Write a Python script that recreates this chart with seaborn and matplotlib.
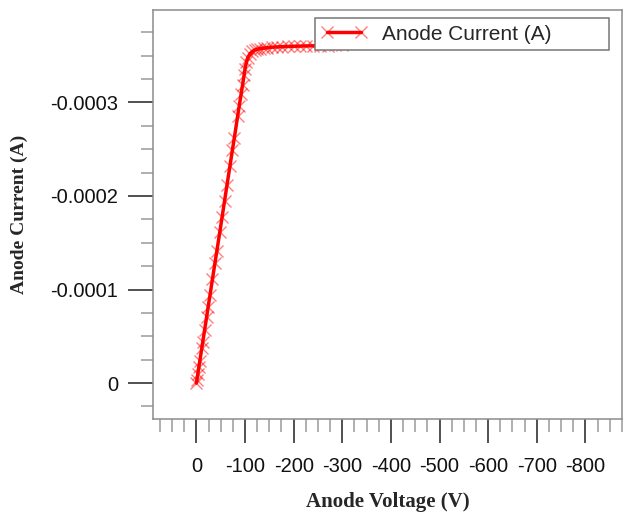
"Anode current vs anode voltage (inverted axes, negative bias)."
import matplotlib
matplotlib.use("Agg")
import matplotlib.pyplot as plt
from matplotlib.ticker import MultipleLocator
import seaborn as sns
import pandas as pd

# anode voltage (V) and anode current (A)
anode_voltage = [0, -1, -3, -5, -7, -11, -13, -17, -21, -24, -28, -33, -38, -42, -48,
                 -53, -58, -63, -69, -74, -78, -85, -88, -92, -95, -98, -100, -103,
                 -106, -110, -115, -120, -125, -131, -138, -146, -155, -165, -176,
                 -188, -200, -213, -226, -240, -255, -270, -285, -300]
anode_current = [0, -3.4e-6, -1.0e-5, -1.7e-5, -2.35e-5, -3.7e-5, -4.4e-5, -5.7e-5,
                 -7.05e-5, -8.1e-5, -9.4e-5, -1.11e-4, -1.28e-4, -1.41e-4, -1.61e-4,
                 -1.78e-4, -1.95e-4, -2.12e-4, -2.32e-4, -2.49e-4, -2.62e-4, -2.86e-4,
                 -2.96e-4, -3.09e-4, -3.19e-4, -3.29e-4, -3.36e-4, -3.43e-4, -3.48e-4,
                 -3.52e-4, -3.545e-4, -3.56e-4, -3.568e-4, -3.575e-4, -3.58e-4,
                 -3.585e-4, -3.59e-4, -3.593e-4, -3.596e-4, -3.598e-4, -3.6e-4,
                 -3.602e-4, -3.604e-4, -3.605e-4, -3.607e-4, -3.608e-4, -3.609e-4,
                 -3.61e-4]
series_label = 'Anode Current (A)'
xticks = [0, -100, -200, -300, -400, -500, -600, -700, -800]
yticks = [0, -0.0001, -0.0002, -0.0003]
ytick_labels = ['0', '-0.0001', '-0.0002', '-0.0003']

df = pd.DataFrame({'V': anode_voltage, 'I': anode_current})

sns.set_theme(style='white')
plt.rcParams['font.family'] = ['Liberation Sans', 'DejaVu Sans']

fig = plt.figure(figsize=(6.25, 5.13), dpi=100)
ax = fig.add_axes([0.245, 0.183, 0.75, 0.797])

sns.lineplot(data=df, x='V', y='I', ax=ax, color='#ff0000', linewidth=2.5,
             marker='x', markersize=8, markeredgewidth=1.0,
             markeredgecolor=(1, 0, 0, 0.5), label=series_label, sort=False)

ax.set_xlim(89, -875)
ax.set_ylim(3.85e-5, -3.985e-4)
ax.set_xticks(xticks)
ax.set_xticklabels([str(v) for v in xticks])
ax.set_yticks(yticks)
ax.set_yticklabels(ytick_labels)
ax.xaxis.set_minor_locator(MultipleLocator(25))
ax.yaxis.set_minor_locator(MultipleLocator(0.000025))

ax.tick_params(which='both', bottom=True, left=True, top=False, right=False)
ax.tick_params(which='major', direction='out', color='#333333', width=1.2,
               labelcolor='#111111', labelsize=14.5)
ax.tick_params(axis='x', which='major', length=17, pad=10)
ax.tick_params(axis='y', which='major', length=18, pad=7)
ax.tick_params(which='minor', direction='out', color='#9a9a9a', width=1.1)
ax.tick_params(axis='x', which='minor', length=9.5)
ax.tick_params(axis='y', which='minor', length=8.6)

for s in ax.spines.values():
    s.set_color('#8c8c8c')
    s.set_linewidth(1.1)
ax.grid(False)

ax.set_xlabel('Anode Voltage (V)', family=['Liberation Serif'], fontweight='bold',
              fontsize=15, labelpad=12)
ax.set_ylabel('Anode Current (A)', family=['Liberation Serif'], fontweight='bold',
              fontsize=14, labelpad=16)

leg = ax.legend(loc='upper left', bbox_to_anchor=(0.345, 0.0, 0.627, 0.98),
                mode='expand', borderaxespad=0, fontsize=15, numpoints=2,
                handlelength=2.2, handletextpad=0.7, borderpad=0.3,
                fancybox=False, framealpha=1)
leg.get_frame().set_edgecolor('#777777')
leg.get_frame().set_linewidth(1.1)

fig.savefig('out.png', dpi=100)
